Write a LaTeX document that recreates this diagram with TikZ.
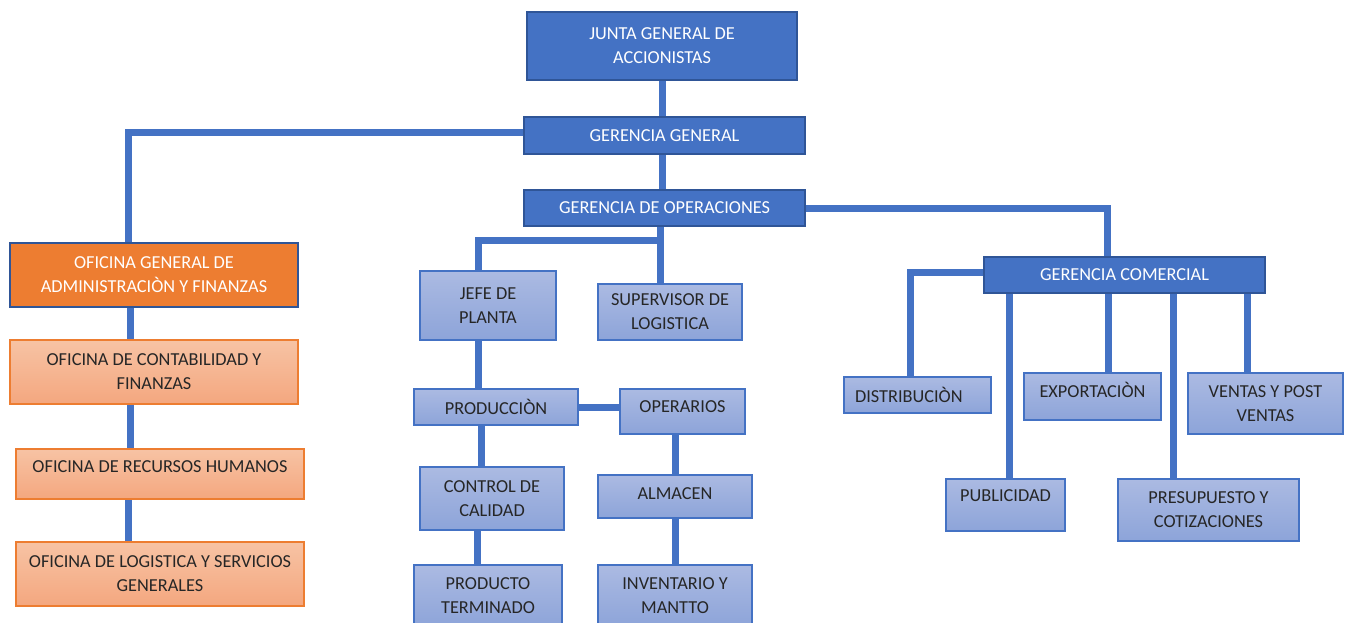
\documentclass[tikz,border=0pt]{standalone}
\usepackage{fontspec}
\setmainfont{Carlito}
\usetikzlibrary{positioning}
\definecolor{azul}{HTML}{4472C4}
\definecolor{azulosc}{HTML}{2F5597}
\definecolor{celesteA}{HTML}{ABBAE2}
\definecolor{celesteB}{HTML}{8DA4D9}
\definecolor{naranja}{HTML}{ED7D31}
\definecolor{melonA}{HTML}{F7C3A4}
\definecolor{melonB}{HTML}{F4A77F}
\definecolor{texto}{HTML}{262626}
\tikzset{
darknode/.style 2 args = {rectangle, draw=azulosc, fill=azul, text=white, line width=1.5pt,
  align=center, inner sep=2pt, minimum width=#1, minimum height=#2},
orangenode/.style 2 args = {rectangle, draw=azulosc, fill=naranja, text=white, line width=1.5pt,
  align=center, inner sep=2pt, minimum width=#1, minimum height=#2},
peachnode/.style 2 args = {rectangle, draw=naranja, top color=melonA, bottom color=melonB, text=texto,
  line width=1.5pt, align=center, inner sep=2pt, minimum width=#1, minimum height=#2},
lightnode/.style 2 args = {rectangle, draw=azul, top color=celesteA, bottom color=celesteB, text=texto,
  line width=1.5pt, align=center, inner sep=2pt, minimum width=#1, minimum height=#2},
lift/.style = {text depth=#1},   % pushes a single line up in its box
link/.style = {draw=azul, line width=7pt}
}
\begin{document}
\begin{tikzpicture}[x=1pt,y=-1pt,font=\fontsize{18.3}{24}\selectfont]
\useasboundingbox (0,0) rectangle (1349,623);
% top of the chart
\node [darknode={270pt}{68pt}] (junta) at (662,46) {JUNTA GENERAL DE\\ACCIONISTAS};
\node [darknode={281pt}{37pt}] (gg) at (664.5,135.5) {GERENCIA GENERAL};
\node [darknode={281pt}{36pt}] (go) at (664.5,208) {GERENCIA DE OPERACIONES};
% administration
\node [orangenode={288pt}{64pt}] (ofgen) at (154,275) {OFICINA GENERAL DE\\ADMINISTRACIÒN Y FINANZAS};
\node [peachnode={288pt}{64pt}] (ofcont) at (154,372) {OFICINA DE CONTABILIDAD Y\\FINANZAS};
\node [peachnode={288pt}{50pt}, lift=14pt] (ofrrhh) at (160,474) {OFICINA DE RECURSOS HUMANOS};
\node [peachnode={288pt}{64pt}] (oflog) at (160,574) {OFICINA DE LOGISTICA Y SERVICIOS\\GENERALES};
% operations
\node [lightnode={136pt}{69pt}] (jefe) at (488,305.5) {JEFE DE\\PLANTA};
\node [lightnode={144pt}{56pt}] (super) at (670,312) {SUPERVISOR DE\\LOGISTICA};
\node [lightnode={164pt}{36pt}] (prod) at (496,407) {PRODUCCIÒN};
\node [lightnode={125pt}{45pt}, lift=9pt] (oper) at (682.5,411.5) {OPERARIOS};
\node [lightnode={144pt}{63pt}] (control) at (492,498.5) {CONTROL DE\\CALIDAD};
\node [lightnode={154pt}{43pt}, lift=6pt] (almacen) at (675,496.5) {ALMACEN};
\node [lightnode={148pt}{62pt}] (producto) at (488,596) {PRODUCTO\\TERMINADO};
\node [lightnode={154pt}{62pt}] (inventario) at (675,596) {INVENTARIO Y\\MANTTO};
% commercial
\node [darknode={281pt}{36pt}] (gc) at (1124.5,275) {GERENCIA COMERCIAL};
\node [lightnode={147pt}{36pt}, text width=125pt, align=left] (distrib) at (917.5,395) {DISTRIBUCIÒN};
\node [lightnode={137pt}{47pt}, lift=13pt] (export) at (1092.5,396.5) {EXPORTACIÒN};
\node [lightnode={155pt}{61pt}] (ventas) at (1265.5,403.5) {VENTAS Y POST\\VENTAS};
\node [lightnode={119pt}{52pt}, lift=18pt] (public) at (1005.5,505) {PUBLICIDAD};
\node [lightnode={181pt}{62pt}] (presup) at (1208.5,510) {PRESUPUESTO Y\\COTIZACIONES};
\coordinate (gobend) at (660,240);
% connectors
\draw [link] (junta.south) -- ([xshift=-2.5pt]gg.north);
\draw [link] ([xshift=-2.5pt]gg.south) -- ([xshift=-2.5pt]go.north);
\draw [link] ([yshift=3pt]gg.west) -| ([xshift=-26pt]ofgen.north);
\draw [link] ([xshift=-24pt]ofgen.south) -- ([xshift=-24pt]ofcont.north);
\draw [link] ([xshift=-24pt]ofcont.south) -- ([xshift=-30pt]ofrrhh.north);
\draw [link] ([xshift=-32pt]ofrrhh.south) -- ([xshift=-32pt]oflog.north);
\draw [link] ([xshift=-4.5pt]go.south) -- (gobend) -| ([xshift=-10pt]jefe.north);
\draw [link] (gobend) -- ([xshift=-10pt]super.north);
\draw [link] ([xshift=-10pt]jefe.south) -- ([xshift=-18pt]prod.north);
\draw [link] (prod.east) -- (prod.east -| oper.west);
\draw [link] ([xshift=-15pt]prod.south) -- ([xshift=-11pt]control.north);
\draw [link] ([xshift=-15pt]control.south) -- ([xshift=-11pt]producto.north);
\draw [link] ([xshift=-7.5pt]oper.south) -- (almacen.north);
\draw [link] (almacen.south) -- (inventario.north);
\draw [link] (go.east) -| ([xshift=-17.5pt]gc.north);
\draw [link] ([yshift=3pt]gc.west) -| ([xshift=-7.5pt]distrib.north);
\draw [link] ([xshift=-115.5pt]gc.south) -- ([xshift=3.5pt]public.north);
\draw [link] ([xshift=-16.5pt]gc.south) -- ([xshift=15.5pt]export.north);
\draw [link] ([xshift=48.5pt]gc.south) -- ([xshift=-35.5pt]presup.north);
\draw [link] ([xshift=122.5pt]gc.south) -- ([xshift=-18.5pt]ventas.north);
\end{tikzpicture}
\end{document}
